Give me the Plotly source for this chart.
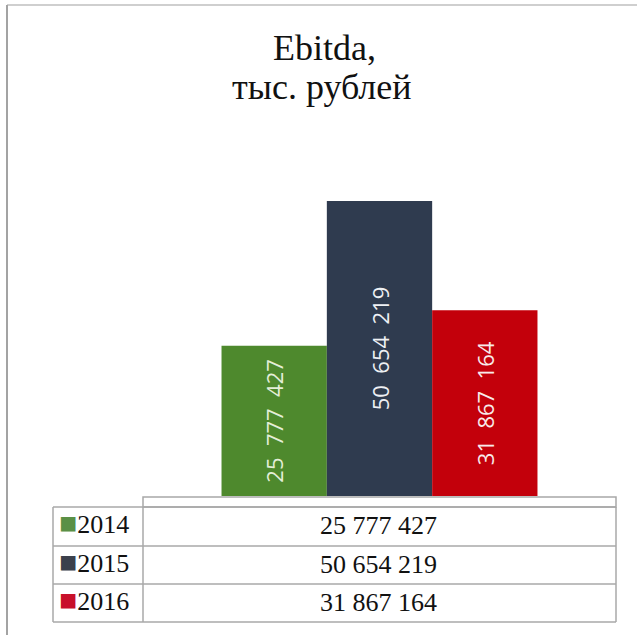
import plotly.graph_objects as go

# --- data ---
years = ["2014", "2015", "2016"]
ebitda = [25777427, 50654219, 31867164]
bar_colors = ["#4e892d", "#2f3b4f", "#c3000b"]
label_colors = ["#e4eed8", "#eef0f4", "#f8eaea"]
legend_colors = ["#5a9046", "#3b404c", "#c8102a"]
title_lines = ["Ebitda,", "тыс. рублей"]

W, H = 637, 635
SERIF = "Liberation Serif"


def px(x):
    return x / W


def py(y):
    return 1 - y / H


def fmt_table(v):
    return f"{v:,}".replace(",", " ")


def fmt_bar(v):
    return f"{v:,}".replace(",", "\u00a0\u00a0")


fig = go.Figure()

for yr, val, col, lc in zip(years, ebitda, bar_colors, label_colors):
    fig.add_trace(go.Bar(
        x=["Ebitda"], y=[val], name=yr,
        marker=dict(color=col, line=dict(width=0)),
        text=[fmt_bar(val)],
        textposition="inside",
        insidetextanchor="middle",
        textangle=-90,
        textfont=dict(family="Open Sans", size=22, color=lc),
        hoverinfo="skip",
    ))

shapes = []
line_col = "#a8a8a8"

# outer frame (top and left edges)
shapes.append(dict(type="line", xref="paper", yref="paper",
                   x0=px(7), x1=px(637), y0=py(5), y1=py(5),
                   line=dict(color="#cfcfcf", width=2)))
shapes.append(dict(type="line", xref="paper", yref="paper",
                   x0=px(7), x1=px(7), y0=py(5), y1=py(635),
                   line=dict(color="#a3a3a3", width=2)))

# data table grid
col_x = [53, 143, 616]
row_y = [507, 546, 584, 622]
head_top = 497
shapes.append(dict(type="rect", xref="paper", yref="paper",
                   x0=px(col_x[1]), x1=px(col_x[2]), y0=py(head_top), y1=py(row_y[0]),
                   line=dict(color=line_col, width=1.5)))
for ry in row_y:
    shapes.append(dict(type="line", xref="paper", yref="paper",
                       x0=px(col_x[0]), x1=px(col_x[2]), y0=py(ry), y1=py(ry),
                       line=dict(color=line_col, width=1.5)))
for cx in col_x:
    shapes.append(dict(type="line", xref="paper", yref="paper",
                       x0=px(cx), x1=px(cx), y0=py(row_y[0]), y1=py(row_y[-1]),
                       line=dict(color=line_col, width=1.5)))

annotations = []
# title
annotations.append(dict(text=title_lines[0], x=px(324), y=py(48), xref="paper", yref="paper",
                        xanchor="center", yanchor="middle", showarrow=False,
                        font=dict(family=SERIF, size=36, color="#111111")))
annotations.append(dict(text=title_lines[1], x=px(322), y=py(87), xref="paper", yref="paper",
                        xanchor="center", yanchor="middle", showarrow=False,
                        font=dict(family=SERIF, size=36, color="#111111")))

# table rows
for i, (yr, val, lc) in enumerate(zip(years, ebitda, legend_colors)):
    cy = (row_y[i] + row_y[i + 1]) / 2
    annotations.append(dict(
        text=f'<span style="color:{lc};font-size:30px">■</span>{yr}',
        x=px(57), y=py(cy - 4), xref="paper", yref="paper",
        xanchor="left", yanchor="middle", showarrow=False,
        font=dict(family=SERIF, size=26, color="#111111")))
    annotations.append(dict(
        text=fmt_table(val),
        x=px(378), y=py(cy - 1), xref="paper", yref="paper",
        xanchor="center", yanchor="middle", showarrow=False,
        font=dict(family=SERIF, size=26, color="#111111")))

# y scale: 0 at pixel 496, 60M at pixel 146.5
fig.update_layout(
    width=W, height=H, autosize=False,
    margin=dict(l=0, r=0, t=0, b=0),
    paper_bgcolor="white", plot_bgcolor="white",
    barmode="group", bargap=0.332, bargroupgap=0,
    showlegend=False,
    xaxis=dict(domain=[px(143), px(616)], visible=False, fixedrange=True),
    yaxis=dict(domain=[py(496), py(146.5)], range=[0, 60e6], visible=False, fixedrange=True),
    shapes=shapes,
    annotations=annotations,
)

fig.write_html("out.html")
